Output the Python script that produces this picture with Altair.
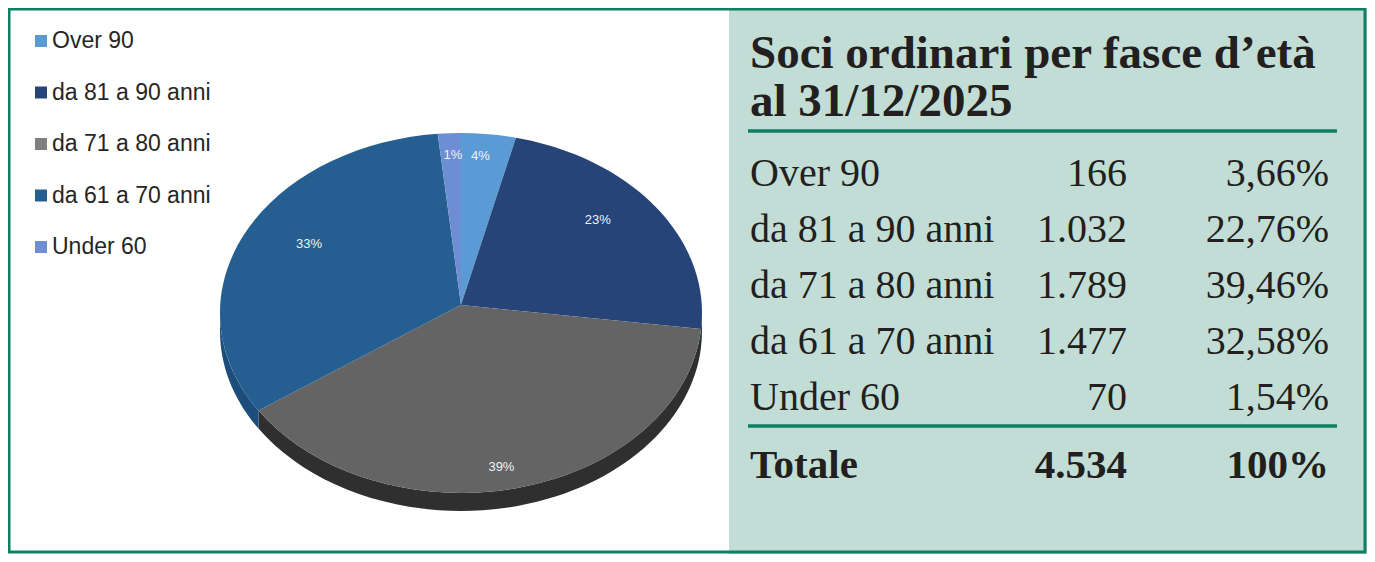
import altair as alt
import pandas as pd

# ---------------- data ----------------
categories = ["Over 90", "da 81 a 90 anni", "da 71 a 80 anni", "da 61 a 70 anni", "Under 60"]
soci = [166, 1032, 1789, 1477, 70]
percentuali = [3.66, 22.76, 39.46, 32.58, 1.54]
pie_labels = ["4%", "23%", "39%", "33%", "1%"]
title_lines = ["Soci ordinari per fasce d\u2019et\u00e0", "al 31/12/2025"]
total_label = "Totale"

# ---------------- styles ----------------
slice_colors = ["#5B9BD5", "#264478", "#646464", "#255E91", "#6E8ED3"]
side_colors = ["#3d6f9e", "#1a3055", "#2f2f2f", "#1d4d7a", "#4b66a0"]
legend_colors = ["#5B9BD5", "#264478", "#7F7F7F", "#255E91", "#6E8ED3"]
GREEN = "#0E7F63"
PANEL = "#C2DDD6"
TEXT = "#231F20"

W, H = 1359, 546
CX, CY = 453, 305          # pie centre (pixels)
RX, RY = 241, 180          # ellipse radii
DEPTH = 18                 # 3D side thickness
APEX = -8                  # apex offset of the slices

df = pd.DataFrame({
    "cat": categories,
    "n": soci,
    "pct": percentuali,
    "lab": pie_labels,
    "idx": list(range(len(categories))),
})


def ex(a):
    return f"(round({RX}*sin({a})*100)/100)"


def ey(a, off=0):
    return f"(round(({off}-{RY}*cos({a}))*100)/100)"


top_path = (
    f"'M0,{APEX}L' + {ex('datum.a0')} + ',' + {ey('datum.a0')} + "
    f"'A{RX},{RY} 0 ' + (datum.a1 - datum.a0 > PI ? '1' : '0') + ' 1 ' + "
    f"{ex('datum.a1')} + ',' + {ey('datum.a1')} + 'Z'"
)
side_path = (
    f"'M' + {ex('datum.s0')} + ',' + {ey('datum.s0')} + "
    f"'A{RX},{RY} 0 0 1 ' + {ex('datum.s1')} + ',' + {ey('datum.s1')} + "
    f"'L' + {ex('datum.s1')} + ',' + {ey('datum.s1', DEPTH)} + "
    f"'A{RX},{RY} 0 0 0 ' + {ex('datum.s0')} + ',' + {ey('datum.s0', DEPTH)} + 'Z'"
)

base = alt.Chart(df)

pie_base = base.transform_window(
    cum="sum(pct)", sort=[alt.SortField("idx")], frame=[None, 0]
).transform_calculate(
    a0="(datum.cum - datum.pct) / 100 * 2 * PI",
    a1="datum.cum / 100 * 2 * PI",
).transform_calculate(
    s0="max(datum.a0, PI / 2)",
    s1="min(datum.a1, 3 * PI / 2)",
    mid="(datum.a0 + datum.a1) / 2",
)

sides = pie_base.transform_filter("datum.s1 > datum.s0").transform_calculate(
    path=side_path
).mark_point(filled=True, opacity=1, strokeWidth=0, size=4).encode(
    x=alt.value(CX),
    y=alt.value(CY),
    shape=alt.Shape("path:N", scale=None),
    color=alt.Color("cat:N", scale=alt.Scale(domain=categories, range=side_colors), legend=None),
)

tops = pie_base.transform_calculate(path=top_path).mark_point(
    filled=True, opacity=1, strokeWidth=0, size=4
).encode(
    x=alt.value(CX),
    y=alt.value(CY),
    shape=alt.Shape("path:N", scale=None),
    color=alt.Color("cat:N", scale=alt.Scale(domain=categories, range=slice_colors), legend=None),
)

labels = pie_base.transform_calculate(
    lx=f"{CX} + 0.7 * {RX} * sin(datum.mid)",
    ly=f"{CY} - 0.88 * {RY} * cos(datum.mid)",
).mark_text(font="Liberation Sans", fontSize=13, color="#F2F2F2", align="center", baseline="middle").encode(
    x=alt.X("lx:Q", scale=None, axis=None),
    y=alt.Y("ly:Q", scale=None, axis=None),
    text="lab:N",
)

# ---------------- legend ----------------
leg_y = alt.Y("cat:N", sort=categories,
              scale=alt.Scale(type="point", domain=categories, range=[33, 239], padding=0), axis=None)
leg_sq = base.mark_square(size=144, opacity=1).encode(
    x=alt.value(33),
    y=leg_y,
    color=alt.Color("cat:N", scale=alt.Scale(domain=categories, range=legend_colors), legend=None),
)
leg_tx = base.mark_text(font="Liberation Sans", fontSize=23, color="#262626", align="left", baseline="middle").encode(
    x=alt.value(44),
    y=leg_y,
    text="cat:N",
)

# ---------------- backgrounds ----------------
one = alt.Chart(alt.InlineData(values=[{"k": 0}]))
panel = one.mark_rect(color=PANEL).encode(
    x=alt.value(721), x2=alt.value(W), y=alt.value(0), y2=alt.value(H)
)
border = one.mark_rect(fillOpacity=0, stroke=GREEN, strokeWidth=3).encode(
    x=alt.value(1), x2=alt.value(W - 2), y=alt.value(1), y2=alt.value(H - 2)
)
rule1 = one.mark_rule(color=GREEN, strokeWidth=3.5).encode(
    x=alt.value(740), x2=alt.value(1329), y=alt.value(123)
)
rule2 = one.mark_rule(color=GREEN, strokeWidth=3.5).encode(
    x=alt.value(740), x2=alt.value(1329), y=alt.value(418)
)

# ---------------- table ----------------
title = one.mark_text(
    text=title_lines, font="Liberation Serif", fontWeight="bold", fontSize=47,
    lineHeight=48, color=TEXT, align="left", baseline="alphabetic",
).encode(x=alt.value(742), y=alt.value(60))

row_y = alt.Y("cat:N", sort=categories,
              scale=alt.Scale(type="point", domain=categories, range=[178, 402], padding=0), axis=None)
row_font = dict(font="Liberation Serif", fontSize=40, color=TEXT, baseline="alphabetic")

col_lab = base.mark_text(align="left", **row_font).encode(
    x=alt.value(742), y=row_y, text="cat:N")
col_n = base.mark_text(align="right", **row_font).encode(
    x=alt.value(1119), y=row_y, text=alt.Text("n:Q", format=",d"))
col_p = base.transform_calculate(frac="datum.pct / 100").mark_text(align="right", **row_font).encode(
    x=alt.value(1321), y=row_y, text=alt.Text("frac:Q", format=".2%"))

bold_font = dict(font="Liberation Serif", fontSize=41, fontWeight="bold", color=TEXT, baseline="alphabetic")
tot_lab = one.mark_text(text=total_label, align="left", **bold_font).encode(
    x=alt.value(742), y=alt.value(470))
tot_n = base.transform_aggregate(total="sum(n)").mark_text(align="right", **bold_font).encode(
    x=alt.value(1119), y=alt.value(470), text=alt.Text("total:Q", format=",d"))
tot_p = base.transform_aggregate(p="sum(pct)").transform_calculate(pf="round(datum.p) / 100").mark_text(
    align="right", **bold_font).encode(
    x=alt.value(1321), y=alt.value(470), text=alt.Text("pf:Q", format=".0%"))

chart = alt.layer(
    panel, sides, tops, labels, leg_sq, leg_tx, rule1, rule2, title,
    col_lab, col_n, col_p, tot_lab, tot_n, tot_p, border,
).resolve_scale(
    y="independent", color="independent"
).properties(
    width=W, height=H, padding=0, autosize=alt.AutoSizeParams(type="none"),
).configure(
    background="white",
    locale={"number": {"decimal": ",", "thousands": ".", "grouping": [3], "currency": ["", " \u20ac"]}},
).configure_view(stroke="transparent")

chart.save("out.html", embed_options={"renderer": "svg", "actions": False})
